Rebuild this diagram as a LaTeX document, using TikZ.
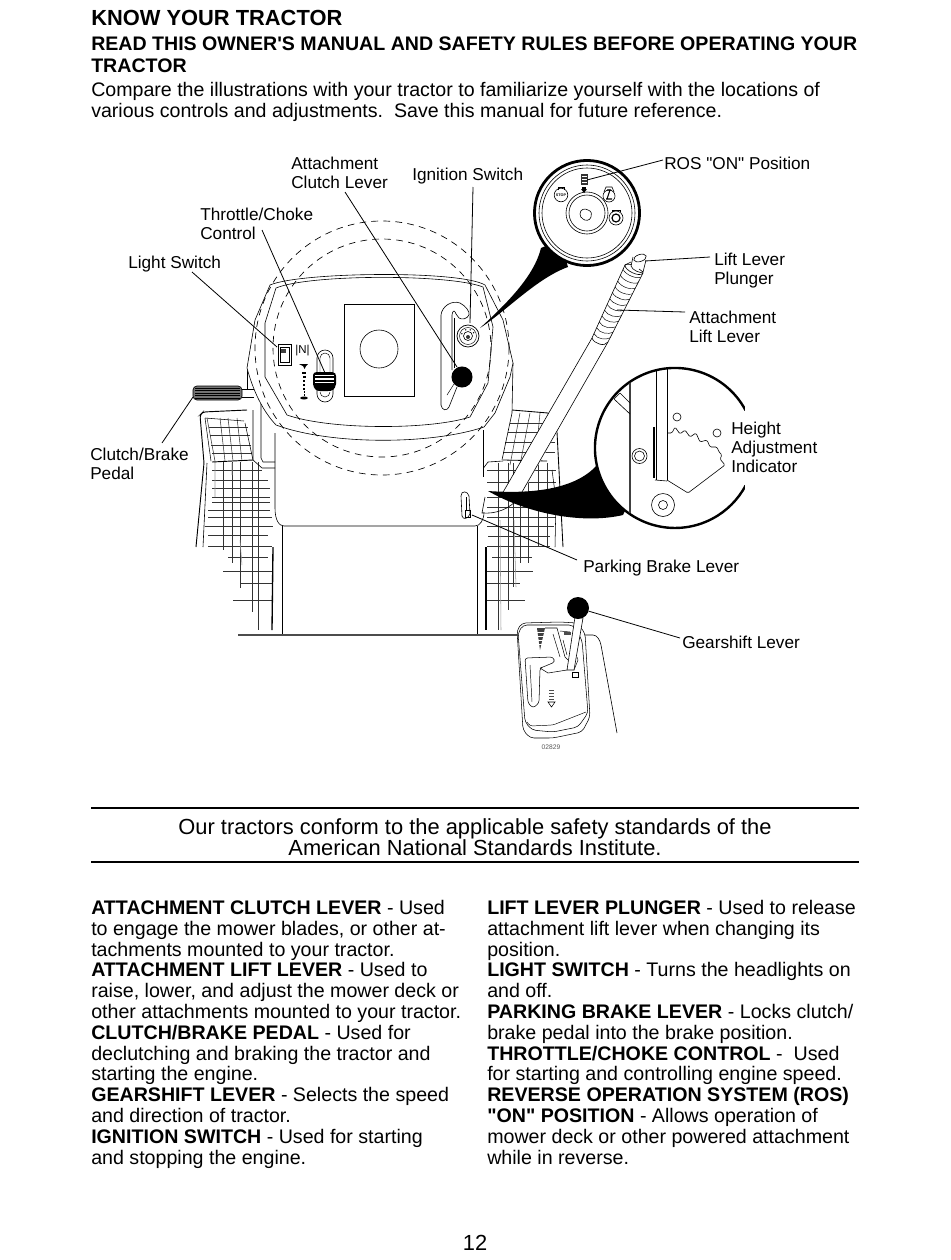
\documentclass[tikz,border=0pt]{standalone}
\usepackage{fontspec}
\setmainfont{Liberation Sans}[Ligatures=TeXOff]
\usetikzlibrary{calc}
\tikzset{
  lbl/.style={inner sep=0pt,anchor=north west,align=left,font=\fontsize{12.9pt}{14pt}\selectfont},
  hd/.style={inner sep=0pt,anchor=base west},
  body/.style={inner sep=0pt,anchor=north west,align=left,font=\fontsize{14.72pt}{15.6pt}\selectfont},
  lead/.style={line width=.6pt},
  thin1/.style={line width=.45pt},
  mat/.style={line width=.4pt,black!80},
  matf/.style={line width=.4pt,black!40},
  dashc/.style={line width=.5pt,dash pattern=on 5pt off 4pt},
}
\begin{document}
\begin{tikzpicture}[x=.75pt,y=-.75pt]
\useasboundingbox (0,0) rectangle (950,1260);
\fill[white] (0,0) rectangle (950,1260);
% headings
\node[hd,font=\bfseries\fontsize{16.4pt}{18pt}\selectfont] (t1) at (91,25) {KNOW YOUR TRACTOR};
\node[hd,font=\bfseries\fontsize{14.69pt}{16pt}\selectfont] (t2) at (91,50) {READ THIS OWNER'S MANUAL AND SAFETY RULES BEFORE OPERATING YOUR};
\node[hd,font=\bfseries\fontsize{14.69pt}{16pt}\selectfont] (t3) at (91,72) {TRACTOR};
\node[hd,font=\fontsize{14.7pt}{16pt}\selectfont] (t4) at (91,96) {Compare the illustrations with your tractor to familiarize yourself with the locations of};
\node[hd,font=\fontsize{14.7pt}{16pt}\selectfont] (t5) at (91,117) {various controls and adjustments.\ \ Save this manual for future reference.};
% mats left: upper panel
\foreach \y/\a/\b in {427/209/248,435/210/250,445/211/251,453/212/252}
  \draw[mat] (\a,\y) -- (\b,\y);
\foreach \a/\b in {207/215,220/225,228/233,237/242}
  \draw[mat] (\a,418) -- (\b,461);
\draw[line width=.4pt] (205,418) -- (244,421);
\draw[line width=.4pt] (205,418) -- (211,461);
\draw[line width=.4pt] (245,423) -- (253,460);
% mats left: lower panel
\foreach \y/\a/\b in {470/212/262,480/212/268,488/212/270,497/212/270,502/212/270,510/208/270,517/208/272,526/205/273,535/208/268,546/208/272,557/228/268,571/223/272,583/240/272,600/233/272}
  \draw[mat] (\a,\y) -- (\b,\y);
\foreach \x/\b in {223/550,232/563,240/588,252/612,258/630}
  \draw[mat] (\x,462) -- (\x,\b);
\draw[matf] (215,462) -- (215,497) (232,463) -- (232,475) (240,540) -- (242,565);
\draw[line width=.7pt] (212,462) -- (253,460);
\draw[line width=.7pt,rounded corners=2pt] (247,410) -- (203,412) -- (200,415) -- (204,463) -- (196,547);
\draw[line width=.45pt] (207,463) -- (203,547);
\draw[line width=1pt] (273,547) -- (272,630);
% mats right
\foreach \y/\a/\b in {423/510/550,432/508/555,442/505/555,452/503/555,470/487/556,482/487/556,497/487/556,507/487/556,517/487/556,526/487/554,536/488/550,546/487/550,557/492/532,571/487/533,583/487/520,600/487/525}
  \draw[mat] (\a,\y) -- (\b,\y);
\draw[line width=.6pt] (503,460) -- (547,461);
\foreach \a/\b in {520/510,530/520,540/535}
  \draw[mat] (\a,413) -- (\b,465);
\foreach \x/\b in {498/630,508/610,513/587,520/563,528/563,538/546,547/546}
  \draw[mat] (\x,463) -- (\x,\b);
\draw[matf] (500,520) -- (501,630) (514,520) -- (516,587);
\draw[line width=.65pt] (512,410) -- (548,413) -- (557,432) -- (563,547);
\draw[line width=.4pt] (552,470) -- (556,500) -- (555,547);
\draw[line width=1pt] (486,547) -- (486,630);
% body outline
\draw[thin1] (261,400) -- (261,458) -- (263,462) -- (275,462);
\draw[thin1] (253,410) -- (253,460) -- (262,468) -- (275,468);
\draw[thin1] (275,433) -- (275,508) .. controls (275,520) and (279,526) .. (284,526) -- (475,526) .. controls (480,526) and (484,520) .. (484,512);
\draw[thin1] (483.5,430) -- (483.5,477);
\draw[thin1] (282,526) -- (282,635);
\draw[thin1] (477,526) -- (477,635);
\draw[line width=1.2pt,black!70] (238,635) -- (518,635);
% pedal
\draw[thin1] (242,389) -- (260,389) (242,397) -- (254,397);
\draw[thin1] (247,368) -- (247,389);
\draw[fill=black!55,line width=.5pt,rounded corners=3pt] (193,386) rectangle (242,400);
\foreach \y in {388,390.5,393,395.5,398} \draw[black,line width=.45pt] (195,\y) -- (240,\y);
% console
\draw[thin1] (513,363) -- (512,413) -- (502,460);
\draw[thin1,fill=white] (247,368) -- (255,320) -- (270,285) .. controls (300,272) and (460,270) .. (485,285) -- (503,320) -- (513,363) -- (510,377) -- (495,413) -- (484,427) .. controls (430,445) and (330,445) .. (276,425) .. controls (262,410) and (253,390) .. (247,368) -- cycle;
\draw[thin1] (265,323) -- (276,288) .. controls (310,274) and (450,274) .. (483,287) -- (493,327) -- (488,383) -- (470,417) .. controls (430,430) and (330,430) .. (287,415) -- (265,377) -- cycle;
\draw[dashc] (382,348) circle[radius=127];
\draw[dashc] (382,348) circle[radius=109];
\draw[thin1] (344,304) rectangle (414,396);
\draw[thin1] (379,349) circle[radius=19];
% throttle
\draw[thin1] (317,358) arc[start angle=180,end angle=360,radius=8] -- (333,394) arc[start angle=0,end angle=180,radius=8] -- cycle;
\draw[line width=.35pt] (320,372) -- (320,358) arc[start angle=180,end angle=360,radius=5] -- (330,372);
\draw[line width=.35pt] (320,392) arc[start angle=180,end angle=0,radius=5];
\fill[black] (313,375) .. controls (313,373) and (315,372) .. (317,372) -- (332,372) .. controls (335,372) and (336,374) .. (336,376) -- (336,384) .. controls (335,390) and (332,391) .. (328,391) -- (320,391) .. controls (316,391) and (314,389) .. (313,384) -- cycle;
\foreach \y in {375.5,379,382.5} \draw[white,line width=.9pt] (315,\y) -- (334,\y);
% light switch
\draw[thin1] (278,344) rectangle (291,365);
\draw[thin1] (280,347) rectangle (289,362);
\fill[black!75] (281,349) rectangle (286,353);
\node[inner sep=0pt,font=\fontsize{8.6pt}{9pt}\selectfont] (nsym) at (302.5,351) {|N|};
\fill[black] (299,364) -- (308,364) -- (306,366) -- (304.5,369) -- (303,366) -- cycle;
\foreach \y/\w in {372/1.7,376/1.5,380/1.2,384/.9,388/.6,391/.5,394/.4} \fill[black] (304-\w,\y) rectangle (304+\w,\y+2);
\fill[black] (300,398) .. controls (301,396) and (307,396) .. (308,398) .. controls (307,400) and (301,400) .. (300,398) -- cycle;
% clutch slot
\draw[thin1] (441,405) -- (441,315) .. controls (442,306) and (452,300) .. (460,303) .. controls (466,306) and (470,312) .. (469,315) .. controls (467,319) and (462,320) .. (459,318) .. controls (456,316) and (456,312) .. (454,311) .. controls (453,311) and (452,313) .. (452,315) -- (452,370);
\draw[line width=.35pt] (454,318) -- (454,368);
\draw[thin1] (441,405) .. controls (442,411) and (447,411) .. (449,407) -- (457,387);
\draw[line width=.35pt] (447,395) -- (454,384);
\node[circle,fill=black,inner sep=0pt,minimum size=15.8pt] (ball) at (462,377) {};
% ignition small
\node[circle,draw,line width=.55pt,fill=white,inner sep=0pt,minimum size=16.5pt] (ign) at (468,336) {};
\draw[line width=.35pt] (468,336) circle[radius=8.5];
\draw[thin1] (468,336) circle[radius=4.5];
\fill[black!80] (468,337) circle[radius=2];
\foreach \a in {200,250,290,330} \fill[black] ($(468,336)+(\a:6.5)$) circle[radius=.8];
% ignition wedge and magnifier
\fill[black] (541,248) .. controls (534,277) and (505,305) .. (480,328) .. controls (505,312) and (537,278) .. (568,267) -- (560,240) -- cycle;
\node[circle,draw,line width=2.1pt,fill=white,inner sep=0pt,minimum size=78.8pt] (mag) at (587,213) {};
\draw[thin1] (587,213) circle[radius=48];
\draw[thin1] (587,213) circle[radius=45];
\draw[thin1] (587,213) circle[radius=21];
\draw[thin1] (587,213) circle[radius=18];
\draw[thin1] (580,214) .. controls (580,209) and (585,208) .. (588,210) .. controls (592,211) and (592,215) .. (591,217) .. controls (590,221) and (585,221) .. (583,219) .. controls (581,218) and (580,216) .. (580,214) -- cycle;
% ROS icons
\draw[thin1] (561,195) circle[radius=6.8];
\draw[thin1] (558,190) -- (558,187) -- (564,187) -- (564,190);
\node[inner sep=0pt,font=\fontsize{2.8pt}{3pt}\bfseries\selectfont] (stp) at (561,195) {STOP};
\draw[thin1] (609,196) circle[radius=6];
\draw[thin1] (604,192) -- (606,187) -- (612,187) -- (614,192);
\draw[line width=.8pt] (607,190) -- (611,190) (610,190) -- (607,199) (606,199) -- (612,199);
\draw[thin1] (616,218) circle[radius=7];
\draw[thin1] (612,212) -- (612,210) -- (620,210) -- (620,212);
\draw[line width=.9pt] (616,218) circle[radius=4];
\fill[black!80] (581,174) rectangle (588,185);
\foreach \y in {176,179,182} \draw[white,line width=.35pt] (582,\y) -- (587,\y);
\fill[black] (582,187) rectangle (586,189);
\fill[black] (581,189) -- (587,189) -- (584,193) -- cycle;
% lever
\fill[white] (625,265) -- (592,338) -- (503,493) -- (523,492) -- (608,342) -- (643,273) -- cycle;
\draw[thin1] (625,265) -- (592,338) -- (502,494);
\draw[thin1] (643,273) -- (608,342) -- (522,492);
\draw[thin1] (625,265) .. controls (624,270) and (640,278) .. (643,273);
\draw[thin1] (625,265) .. controls (628,262) and (643,268) .. (643,273);
\draw[thin1] (592,338) .. controls (594,344) and (605,347) .. (608,342);
\foreach \t in {.06,.14,.22,.3,.38,.46,.54,.62,.7,.78,.86,.94}
  \draw[line width=.35pt] ($(625,265)!\t!(592,338)$) .. controls +(3,6) and +(-4,2) .. ($(643,273)!\t!(608,342)$);
\fill[white] (632,255) -- (632,268) -- (643,272) -- (647,260) -- cycle;
\draw[thin1] (633,257) -- (631,266) (646,260) -- (643,272);
\draw[thin1] (625,265) -- (631,262) (639,269) -- (643,272);
\draw[thin1] (631,266) .. controls (632,270) and (641,274) .. (643,272);
\draw[thin1,rotate around={18:(640,258)}] (640,258) circle[x radius=6.5,y radius=3.5];
% parking brake lever
\draw[thin1] (461,496) .. controls (461,490) and (468,491) .. (469,496) -- (470,514) .. controls (468,519) and (463,520) .. (462,516) -- cycle;
\draw[thin1] (465,510) rectangle (470,517);
\draw[thin1] (466,497) -- (466,510);
% pedal shape at right
\draw[thin1] (483.5,468) -- (488,462) -- (503,461);
\draw[thin1] (485,497) -- (482,513) .. controls (495,514) and (510,510) .. (520,496);
% height wedge
\fill[black] (488,491) .. controls (530,494) and (575,490) .. (597,465) -- (640,480) -- (623,515) .. controls (585,524) and (530,515) .. (488,491) -- cycle;
% height circle
\fill[white] (675,448) circle[radius=80];
\draw[line width=1.8pt] (745.6,410.4) arc[start angle=-28,end angle=-332,radius=80];
\fill[white] (745,405) rectangle (760,492);
\draw[line width=1pt,black!75] (630,383) -- (630,513);
\draw[thin1] (614,399) -- (630,414) (620,393) -- (630,403) (614,399) -- (620,393);
\draw[thin1] (656,369) -- (656,480) (667,369) -- (667,480);
\draw[line width=1.1pt] (654,427) -- (654,478);
\draw[thin1] (655,480) -- (667,481);
\draw[thin1,rounded corners=1pt] (667,433) -- (672,433) -- (675,427) -- (680,434) -- (685,430) -- (690,437) -- (696,433) -- (700,442) -- (707,440) -- (710,447) -- (717,447) -- (719,452) -- (722,455) -- (720,459) -- (725,465) -- (688,493) -- (667,480);
\draw[thin1] (677,417) circle[radius=4];
\draw[thin1] (717,433) circle[radius=4];
\draw[thin1] (639.5,456) circle[radius=7.5];
\draw[thin1] (639.5,456) circle[radius=5];
\draw[thin1] (663,505) circle[radius=11.5];
\draw[thin1] (663,505) circle[radius=4.5];
% gearshift
\draw[thin1] (582,635) -- (593,635) .. controls (597,635) and (600,640) .. (601,645) -- (617,733);
\draw[line width=.4pt,fill=white,rounded corners=3pt] (517,630) -- (522,623) -- (560,622) -- (577,623) -- (585,633) -- (590,717) -- (582,732) -- (553,738) -- (530,738) -- (523,730) -- cycle;
\draw[line width=.4pt,rounded corners=3pt] (518,633) -- (523,625) -- (573,625) -- (582,640) -- (588,713) -- (578,727) -- (553,732) -- (532,730) -- (525,722) -- cycle;
\draw[line width=.35pt,rounded corners=2pt] (527,722) -- (530,726) -- (553,725) -- (586,712);
\draw[line width=.4pt,rounded corners=2pt] (525,658) -- (553,657) -- (555,662) -- (543,667) -- (540,668) -- (539,703) -- (533,708) -- (528,703) -- cycle;
\draw[line width=.35pt] (530,665) -- (532,702);
\draw[line width=.4pt] (540,668) -- (548,673) -- (567,670);
\draw[line width=.4pt] (545,628) -- (557,628) -- (565,657) -- (568,660);
\draw[line width=.35pt] (553,634) -- (560,657);
\draw[line width=.35pt] (560,631) -- (570,632);
\draw[line width=.35pt] (563,640) -- (567,655);
\fill[black!70] (564,632) rectangle (571,635);
\draw[line width=.35pt] (574,670) -- (578,660) -- (577,657);
\fill[black!75] (537,628) -- (545,628) -- (540,650) -- cycle;
\foreach \y in {632,636,640,644} \draw[white,line width=.4pt] (536,\y) -- (546,\y);
\draw[thin1,fill=white] (575,617) -- (567,670) -- (574,670) -- (583,618) -- cycle;
\node[circle,fill=black,inner sep=0pt,minimum size=16.5pt] (knob) at (578,608) {};
\draw[line width=.4pt] (572,672) rectangle (578,677);
\foreach \y in {690,693,696,699} \draw[line width=.5pt,black!70] (549,\y) -- (554,\y);
\draw[line width=.4pt] (548,702) -- (555,702) -- (551.5,707) -- cycle;
\node[inner sep=0pt,font=\fontsize{5pt}{6pt}\selectfont,text=black!65] (code) at (551,747) {02829};
% labels
\node[lbl] (lclutch) at (291,157) {Attachment\\Clutch Lever};
\node[lbl] (lign) at (412,168) {Ignition Switch};
\node[lbl] (lthr) at (200,208) {Throttle/Choke\\Control};
\node[lbl] (llight) at (128,256) {Light Switch};
\node[lbl] (lped) at (90,448) {Clutch/Brake\\Pedal};
\node[lbl] (lros) at (664,157) {ROS "ON" Position};
\node[lbl] (lplu) at (714,253) {Lift Lever\\Plunger};
\node[lbl] (llift) at (689,311) {Attachment\\Lift Lever};
\node[lbl] (lhei) at (731,422) {Height\\Adjustment\\Indicator};
\node[lbl] (lpark) at (583,560) {Parking Brake Lever};
\node[lbl] (lgear) at (682,636) {Gearshift Lever};
% leader ends
\coordinate (pclutch) at (457,367);
\coordinate (lclutchs) at (345,192);
\coordinate (pign) at (470,323);
\coordinate (lignS) at (473,187);
\coordinate (pthr) at (325,373);
\coordinate (lthrS) at (262,230);
\coordinate (plight) at (277,347);
\coordinate (llightS) at (192,272);
\coordinate (pped) at (193,397);
\coordinate (lpedS) at (162,443);
\coordinate (pros) at (587,180);
\coordinate (lrosS) at (663,160);
\coordinate (pplu) at (645,261);
\coordinate (lpluS) at (710,257);
\coordinate (plift) at (617,310);
\coordinate (lliftS) at (685,312);
\coordinate (ppark) at (472,515);
\coordinate (lparkS) at (577,560);
\coordinate (lgearS) at (680,638);
\draw[lead] (lclutchs) -- (pclutch);
\draw[lead] (lignS) -- (pign);
\draw[lead] (lthrS) -- (pthr);
\draw[lead] (llightS) -- (plight);
\draw[lead] (lpedS) -- (pped);
\draw[lead] (lrosS) -- (pros);
\draw[lead] (lpluS) -- (pplu);
\draw[lead] (lliftS) -- (plift);
\draw[lead] (lparkS) -- (ppark);
\draw[lead] (lgearS) -- (knob);
% banner
\draw[line width=2.2pt] (91,808) -- (859,808);
\draw[line width=2.2pt] (91,862) -- (859,862);
\node[inner sep=0pt,anchor=base,font=\fontsize{16.4pt}{17pt}\selectfont] (b1) at (475,834) {Our tractors conform to the applicable safety standards of the};
\node[inner sep=0pt,anchor=base,font=\fontsize{16.4pt}{17pt}\selectfont] (b2) at (475,855) {American National Standards Institute.};
% columns
\node[body] (colA) at (91,900) {\textbf{ATTACHMENT CLUTCH LEVER} - Used\\
to engage the mower blades, or other at-\\
tachments mounted to your tractor.\\
\textbf{ATTACHMENT LIFT LEVER} - Used to\\
raise, lower, and adjust the mower deck or\\
other attachments mounted to your tractor.\\
\textbf{CLUTCH/BRAKE PEDAL} - Used for\\
declutching and braking the tractor and\\
starting the engine.\\
\textbf{GEARSHIFT LEVER} - Selects the speed\\
and direction of tractor.\\
\textbf{IGNITION SWITCH} - Used for starting\\
and stopping the engine.};
\node[body] (colB) at (487,900) {\textbf{LIFT LEVER PLUNGER} - Used to release\\
attachment lift lever when changing its\\
position.\\
\textbf{LIGHT SWITCH} - Turns the headlights on\\
and off.\\
\textbf{PARKING BRAKE LEVER} - Locks clutch/\\
brake pedal into the brake position.\\
\textbf{THROTTLE/CHOKE CONTROL} -\ \ Used\\
for starting and controlling engine speed.\\
\textbf{REVERSE OPERATION SYSTEM (ROS)}\\
\textbf{"ON" POSITION} - Allows operation of\\
mower deck or other powered attachment\\
while in reverse.};
\node[inner sep=0pt,anchor=base,font=\fontsize{16.4pt}{17pt}\selectfont] (pg) at (475,1250) {12};
\end{tikzpicture}
\end{document}
